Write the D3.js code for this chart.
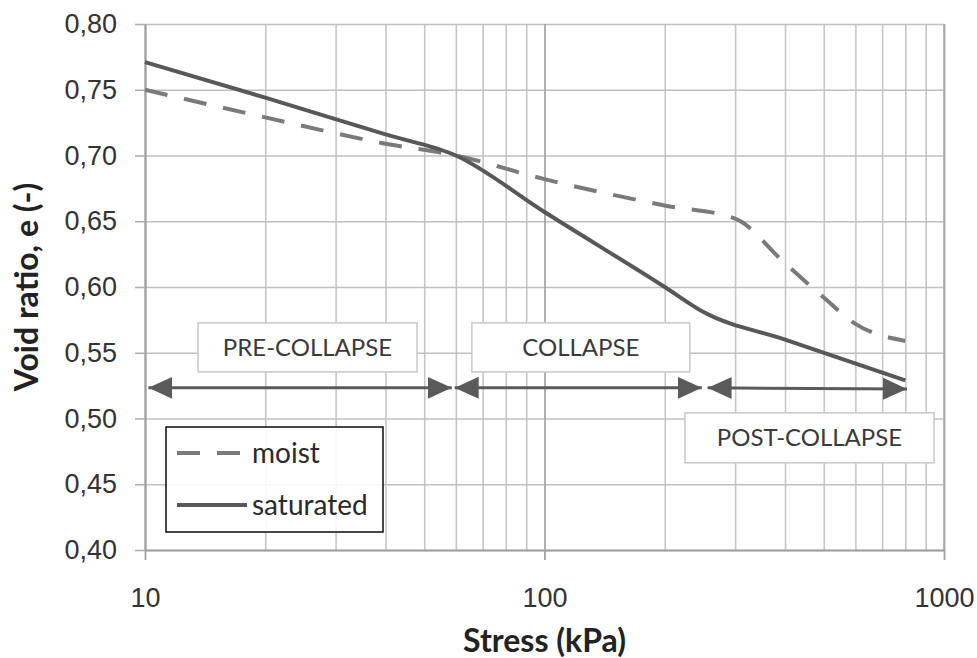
<!DOCTYPE html>
<html>
<head>
<meta charset="utf-8">
<script src="https://cdn.jsdelivr.net/npm/d3@7"></script>
<style>
  body { margin: 0; background: #fff; }
  svg { display: block; font-family: Lato, "Open Sans", sans-serif; }
</style>
</head>
<body>
<svg></svg>
<script>
// curves
let stressMoist = [10, 20, 40, 60, 100, 200, 300, 400, 500, 600, 800];
let eMoist = [0.750, 0.729, 0.709, 0.700, 0.682, 0.662, 0.652, 0.618, 0.592, 0.572, 0.559];

let stressSat = [10, 20, 40, 60, 100, 200, 250, 400, 800];
let eSat = [0.771, 0.744, 0.716, 0.700, 0.657, 0.600, 0.581, 0.560, 0.529];

let seriesNames = ['moist', 'saturated'];

// axes
let stressTicks = [10, 100, 1000];
let stressGrid = [20, 30, 40, 50, 60, 70, 80, 90, 200, 300, 400, 500, 600, 700, 800, 900];
let eTicks = [0.40, 0.45, 0.50, 0.55, 0.60, 0.65, 0.70, 0.75, 0.80];

// phase annotations (in stress / void ratio units)
let phaseNames = ['PRE-COLLAPSE', 'COLLAPSE', 'POST-COLLAPSE'];
let phaseFrom = [10.2, 59.6, 256];
let phaseTo = [58.6, 247.7, 808];
let phaseArrowE = [0.5233, 0.5233, 0.5233];
let phaseArrowEEnd = [0.5233, 0.5233, 0.5225];
let boxStressFrom = [13.57, 65.8, 224.7];
let boxStressTo = [47.97, 231, 944];
let boxETop = [0.5727, 0.5727, 0.5043];
let boxEBottom = [0.5354, 0.5354, 0.4663];

let width = 977;
let height = 658;
let margin = {top: 24, right: 33, bottom: 108, left: 145};
let innerW = width - margin.left - margin.right;
let innerH = height - margin.top - margin.bottom;

let svg = d3.select('svg').attr('width', width).attr('height', height);
let g = svg.append('g').attr('transform', 'translate(' + margin.left + ',' + margin.top + ')');

let xScale = d3.scaleLog().domain([10, 1000]).range([0, innerW]);
let yScale = d3.scaleLinear().domain([0.40, 0.80]).range([innerH, 0]);

let locale = d3.formatLocale({decimal: ',', thousands: '.', grouping: [3], currency: ['', '']});
let fmtE = locale.format('.2f');

// gridlines
g.append('g')
  .attr('transform', 'translate(0,' + innerH + ')')
  .call(d3.axisBottom(xScale).tickValues(stressGrid).tickSize(-innerH).tickFormat(''))
  .call(s => s.select('.domain').remove())
  .selectAll('line').attr('stroke', '#c6c6c6').attr('stroke-width', 1.6);

g.append('g')
  .call(d3.axisLeft(yScale).tickValues(eTicks).tickSize(-innerW).tickFormat(''))
  .call(s => s.select('.domain').remove())
  .selectAll('line').attr('stroke', '#c0c0c0').attr('stroke-width', 1.6);

// right border
g.append('line')
  .attr('x1', innerW).attr('x2', innerW).attr('y1', 0).attr('y2', innerH)
  .attr('stroke', '#b4b4b4').attr('stroke-width', 1.6);

// x axis with major verticals
let xAxis = g.append('g')
  .attr('transform', 'translate(0,' + innerH + ')')
  .call(d3.axisBottom(xScale).tickValues(stressTicks).tickSizeInner(-innerH).tickSizeOuter(0).tickPadding(0).tickFormat(d3.format('d')));
xAxis.select('.domain').attr('stroke', '#a0a0a0').attr('stroke-width', 2);
xAxis.selectAll('line').attr('stroke', '#a8a8a8').attr('stroke-width', 1.8);
xAxis.selectAll('.tick').append('line')
  .attr('y1', 0).attr('y2', 10).attr('stroke', '#a0a0a0').attr('stroke-width', 1.8);
xAxis.selectAll('text')
  .attr('y', 57).attr('dy', 0)
  .attr('fill', '#333').style('font-size', '27px');

// y axis
let yAxis = g.append('g')
  .call(d3.axisLeft(yScale).tickValues(eTicks).tickSizeInner(10).tickSizeOuter(0).tickPadding(18).tickFormat(fmtE));
yAxis.select('.domain').attr('stroke', '#a0a0a0').attr('stroke-width', 2);
yAxis.selectAll('line').attr('stroke', '#b0b0b0').attr('stroke-width', 1.6);
yAxis.selectAll('text').attr('fill', '#333').style('font-size', '27px');

// axis titles
svg.append('text')
  .attr('x', margin.left + innerW / 2).attr('y', 652)
  .attr('text-anchor', 'middle')
  .attr('fill', '#222').style('font-size', '32px').style('font-weight', 'bold')
  .text('Stress (kPa)');

svg.append('text')
  .attr('transform', 'translate(38,' + (margin.top + innerH / 2) + ') rotate(-90)')
  .attr('text-anchor', 'middle')
  .attr('fill', '#222').style('font-size', '32px').style('font-weight', 'bold')
  .text('Void ratio, e (-)');

// curves
let line = d3.line()
  .x(d => xScale(d[0]))
  .y(d => yScale(d[1]))
  .curve(d3.curveMonotoneX);

let moistPts = stressMoist.map((s, i) => [s, eMoist[i]]);
let satPts = stressSat.map((s, i) => [s, eSat[i]]);

g.append('path')
  .datum(moistPts)
  .attr('d', line)
  .attr('fill', 'none')
  .attr('stroke', '#7a7a7a')
  .attr('stroke-width', 4)
  .attr('stroke-dasharray', '23,17');

g.append('path')
  .datum(satPts)
  .attr('d', line)
  .attr('fill', 'none')
  .attr('stroke', '#585858')
  .attr('stroke-width', 4);

// phase boxes and labels
let phases = phaseNames.map((name, i) => ({
  name: name,
  from: phaseFrom[i], to: phaseTo[i],
  e0: phaseArrowE[i], e1: phaseArrowEEnd[i],
  bx0: boxStressFrom[i], bx1: boxStressTo[i],
  bt: boxETop[i], bb: boxEBottom[i]
}));

g.selectAll('.phase-box')
  .data(phases)
  .enter()
  .append('rect')
  .attr('class', 'phase-box')
  .attr('x', d => xScale(d.bx0))
  .attr('y', d => yScale(d.bt))
  .attr('width', d => xScale(d.bx1) - xScale(d.bx0))
  .attr('height', d => yScale(d.bb) - yScale(d.bt))
  .attr('fill', '#fff')
  .attr('stroke', '#c8c8c8')
  .attr('stroke-width', 1.5);

g.selectAll('.phase-label')
  .data(phases)
  .enter()
  .append('text')
  .attr('class', 'phase-label')
  .attr('x', d => (xScale(d.bx0) + xScale(d.bx1)) / 2)
  .attr('y', d => (yScale(d.bt) + yScale(d.bb)) / 2)
  .attr('dy', '0.36em')
  .attr('text-anchor', 'middle')
  .attr('fill', '#3a3a3a')
  .style('font-size', '24px')
  .text(d => d.name);

// double arrows
let defs = svg.append('defs');
defs.append('marker')
  .attr('id', 'head')
  .attr('markerUnits', 'userSpaceOnUse')
  .attr('viewBox', '0 -12 24 24')
  .attr('refX', 24).attr('refY', 0)
  .attr('markerWidth', 24).attr('markerHeight', 24)
  .attr('orient', 'auto-start-reverse')
  .append('path')
  .attr('d', 'M0,-11L24,0L0,11Z')
  .attr('fill', '#5a5a5a');

g.selectAll('.phase-arrow')
  .data(phases)
  .enter()
  .append('line')
  .attr('class', 'phase-arrow')
  .attr('x1', d => xScale(d.from))
  .attr('x2', d => xScale(d.to))
  .attr('y1', d => yScale(d.e0))
  .attr('y2', d => yScale(d.e1))
  .attr('stroke', '#5a5a5a')
  .attr('stroke-width', 3)
  .attr('marker-start', 'url(#head)')
  .attr('marker-end', 'url(#head)');

// legend
let legend = g.append('g').attr('transform', 'translate(21,403)');
legend.append('rect')
  .attr('width', 217).attr('height', 105)
  .attr('fill', '#fff').attr('fill-opacity', 0.9)
  .attr('stroke', '#1a1a1a').attr('stroke-width', 1.6);

let legendItems = legend.selectAll('.legend-item')
  .data(seriesNames)
  .enter()
  .append('g')
  .attr('class', 'legend-item')
  .attr('transform', (d, i) => 'translate(0,' + (26 + i * 52) + ')');

legendItems.append('line')
  .attr('x1', 11).attr('x2', (d, i) => i === 0 ? 74 : 81)
  .attr('stroke', (d, i) => i === 0 ? '#7a7a7a' : '#585858')
  .attr('stroke-width', 4)
  .attr('stroke-dasharray', (d, i) => i === 0 ? '23,17' : null);

legendItems.append('text')
  .attr('x', 86)
  .attr('dy', '0.35em')
  .attr('fill', '#2a2a2a')
  .style('font-size', '28px')
  .text(d => d);
</script>
</body>
</html>
